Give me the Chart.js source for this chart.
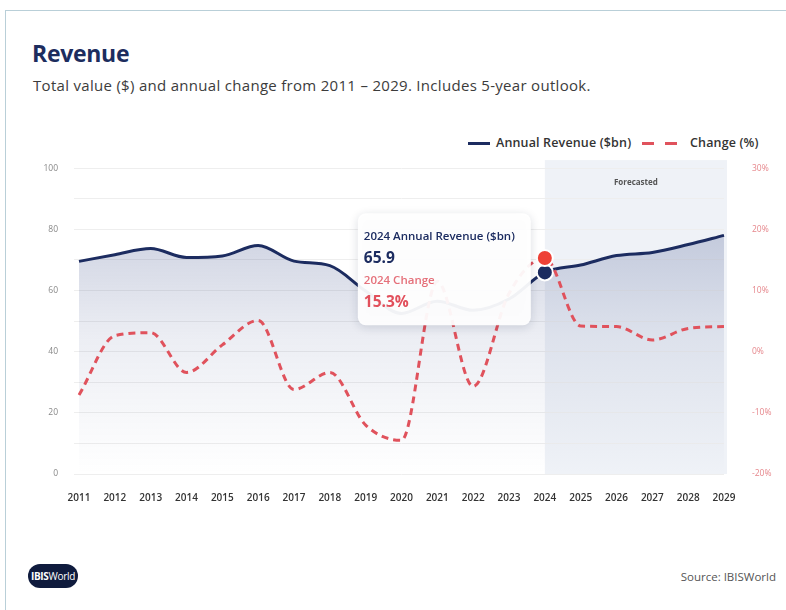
<!DOCTYPE html>
<html>
<head>
<meta charset="utf-8">
<script src="https://cdn.jsdelivr.net/npm/chart.js@4.4.1/dist/chart.umd.min.js"></script>
<style>
html,body{margin:0;padding:0;background:#fff;width:786px;height:610px;overflow:hidden;font-family:"Open Sans",sans-serif;}
#frame{position:absolute;left:5px;top:10px;width:900px;height:700px;border-left:1px solid #b9cfd8;border-top:1px solid #b9cfd8;}
#title{position:absolute;left:32px;top:37px;font-size:23px;font-weight:700;color:#1d2d5e;letter-spacing:-0.3px;}
#subtitle{position:absolute;left:33px;top:75px;font-size:15px;color:#3c3c3c;letter-spacing:0.3px;}
#legend{position:absolute;top:134px;left:0;width:786px;height:20px;font-size:12.5px;font-weight:600;color:#333;letter-spacing:0.15px;}
.lg{position:absolute;top:0;line-height:18px;white-space:nowrap;}
.sw{position:absolute;top:8px;height:0;}
#wrap{position:absolute;left:0;top:143px;width:786px;height:367px;}
#logo{position:absolute;left:28px;top:564px;width:50px;height:24px;border-radius:12px;background:#0f1b3d;color:#fff;font-size:10px;line-height:24px;text-align:center;letter-spacing:-0.3px;}
#source{position:absolute;right:10px;top:569px;font-size:11.5px;color:#555;}
</style>
</head>
<body>
<div id="frame"></div>
<div id="title">Revenue</div>
<div id="subtitle">Total value ($) and annual change from 2011 – 2029. Includes 5-year outlook.</div>
<div id="legend">
  <div class="sw" style="left:468px;width:22px;border-top:3px solid #1c2c60;"></div>
  <div class="lg" style="left:496px;">Annual Revenue ($bn)</div>
  <div class="sw" style="left:642px;width:12px;border-top:3px solid #e0525c;"></div>
  <div class="sw" style="left:665px;width:12px;border-top:3px solid #e0525c;"></div>
  <div class="lg" style="left:690px;">Change (%)</div>
</div>
<div id="wrap"><canvas id="c" width="786" height="367"></canvas></div>
<div id="logo"><b>IBIS</b>World</div>
<div id="source">Source: IBISWorld</div>
<script>
const years = ['2011','2012','2013','2014','2015','2016','2017','2018','2019','2020','2021','2022','2023','2024','2025','2026','2027','2028','2029'];
const revenue = [69.5, 71.7, 73.7, 70.8, 71.3, 74.7, 69.6, 68.1, 59.8, 52.5, 56.5, 53.5, 57.2, 65.9, 68.3, 71.4, 72.4, 75.0, 78.0];
const change = [-7.1, 2.6, 3.1, -3.4, 1.1, 5.1, -6.2, -3.4, -12.0, -14.5, 11.5, -5.7, 9.5, 15.3, 4.2, 4.1, 1.9, 3.8, 4.1];
const revenueTickLabels = [0, 20, 40, 60, 80, 100];
const changeTickLabels = [-20, -10, 0, 10, 20, 30];
const forecastStart = '2024';
const highlightYear = '2024';
const forecastLabel = 'Forecasted';

const NAVY = '#1c2c60';
const RED = '#e0525c';
const hi = years.indexOf(highlightYear);

const bgPlugin = {
  id: 'forecastShade',
  beforeDraw(chart) {
    const {ctx, chartArea, scales} = chart;
    const x0 = scales.x.getPixelForValue(years.indexOf(forecastStart));
    const x1 = chartArea.right + 3;
    ctx.save();
    ctx.fillStyle = '#eff2f7';
    ctx.fillRect(x0, chartArea.top - 8, x1 - x0, chartArea.bottom - chartArea.top + 8);
    ctx.fillStyle = '#555';
    ctx.font = '700 8px "Open Sans"';
    ctx.textAlign = 'center';
    ctx.textBaseline = 'middle';
    ctx.fillText(forecastLabel, (x0 + x1) / 2, chartArea.top + 15);
    ctx.restore();
  }
};

const tipPlugin = {
  id: 'staticTip',
  afterDatasetsDraw(chart) {
    const {ctx, scales} = chart;
    const px = scales.x.getPixelForValue(hi);
    const yr = scales.y.getPixelForValue(revenue[hi]);
    const yc = scales.y1.getPixelForValue(change[hi]);
    const w = 173, h = 112;
    const right = px - 14;
    const left = right - w;
    const top = (yr + yc) / 2 + 4 - h / 2;
    ctx.save();
    ctx.shadowColor = 'rgba(20,30,60,0.16)';
    ctx.shadowBlur = 10;
    ctx.shadowOffsetY = 2;
    ctx.fillStyle = 'rgba(255,255,255,0.94)';
    ctx.beginPath();
    ctx.roundRect(left, top, w, h, 8);
    ctx.fill();
    ctx.shadowColor = 'transparent';
    ctx.textBaseline = 'middle';
    ctx.textAlign = 'left';
    const tx = left + 6;
    ctx.fillStyle = NAVY;
    ctx.font = '600 11.5px "Open Sans"';
    ctx.fillText(highlightYear + ' Annual Revenue ($bn)', tx, top + 23);
    ctx.font = '700 15.5px "Open Sans"';
    ctx.fillText(revenue[hi].toFixed(1), tx, top + 45);
    ctx.fillStyle = '#e5707a';
    ctx.font = '600 11.5px "Open Sans"';
    ctx.fillText(highlightYear + ' Change', tx, top + 67);
    ctx.fillStyle = '#e2505c';
    ctx.font = '700 15.5px "Open Sans"';
    ctx.fillText(change[hi].toFixed(1) + '%', tx, top + 89);
    ctx.restore();
  }
};

const radii = years.map((_, i) => i === hi ? 8 : 0);

new Chart(document.getElementById('c'), {
  type: 'line',
  data: {
    labels: years,
    datasets: [
      {
        label: 'Change (%)',
        data: change,
        yAxisID: 'y1',
        borderColor: RED,
        borderWidth: 3,
        borderDash: [7, 5],
        fill: false,
        cubicInterpolationMode: 'monotone',
        pointRadius: radii,
        pointBackgroundColor: '#ee4136',
        pointBorderColor: '#ffffff',
        pointBorderWidth: 2,
        order: 0
      },
      {
        label: 'Annual Revenue ($bn)',
        data: revenue,
        yAxisID: 'y',
        borderColor: NAVY,
        borderWidth: 3,
        cubicInterpolationMode: 'monotone',
        fill: 'origin',
        backgroundColor: (context) => {
          const {chart} = context;
          const area = chart.chartArea;
          if (!area) return 'rgba(40,60,125,0.15)';
          const g = chart.ctx.createLinearGradient(0, area.top, 0, area.bottom);
          g.addColorStop(0, 'rgba(40,60,125,0.30)');
          g.addColorStop(0.55, 'rgba(40,60,125,0.09)');
          g.addColorStop(1, 'rgba(40,60,125,0)');
          return g;
        },
        pointRadius: radii,
        pointBackgroundColor: NAVY,
        pointBorderColor: '#ffffff',
        pointBorderWidth: 2,
        order: 1
      }
    ]
  },
  options: {
    responsive: false,
    animation: false,
    events: [],
    layout: {padding: {top: 11, left: 0, right: 0, bottom: 0}},
    plugins: {legend: {display: false}, tooltip: {enabled: false}},
    scales: {
      x: {
        offset: false,
        grid: {display: false},
        border: {display: false},
        ticks: {color: '#333', font: {size: 10, weight: 600, family: '"Open Sans"'}, padding: 10, autoSkip: false, maxRotation: 0},
        afterFit(s) { s.height = 36; }
      },
      y: {
        position: 'left',
        min: 0, max: 100,
        ticks: {stepSize: 10, color: '#888', font: {size: 8.5, family: '"Open Sans"'}, padding: 16,
          callback: (v) => revenueTickLabels.includes(v) ? String(v) : ''},
        grid: {color: '#eeeeee', tickLength: 5, drawTicks: true},
        border: {display: false},
        afterFit(s) { s.width = 79; }
      },
      y1: {
        position: 'right',
        min: -20, max: 30,
        ticks: {stepSize: 10, color: '#e6878c', font: {size: 8.5, family: '"Open Sans"'}, padding: 20,
          callback: (v) => changeTickLabels.includes(v) ? v + '%' : ''},
        grid: {display: false},
        border: {display: false},
        afterFit(s) { s.width = 62; }
      }
    }
  },
  plugins: [bgPlugin, tipPlugin]
});
</script>
</body>
</html>
